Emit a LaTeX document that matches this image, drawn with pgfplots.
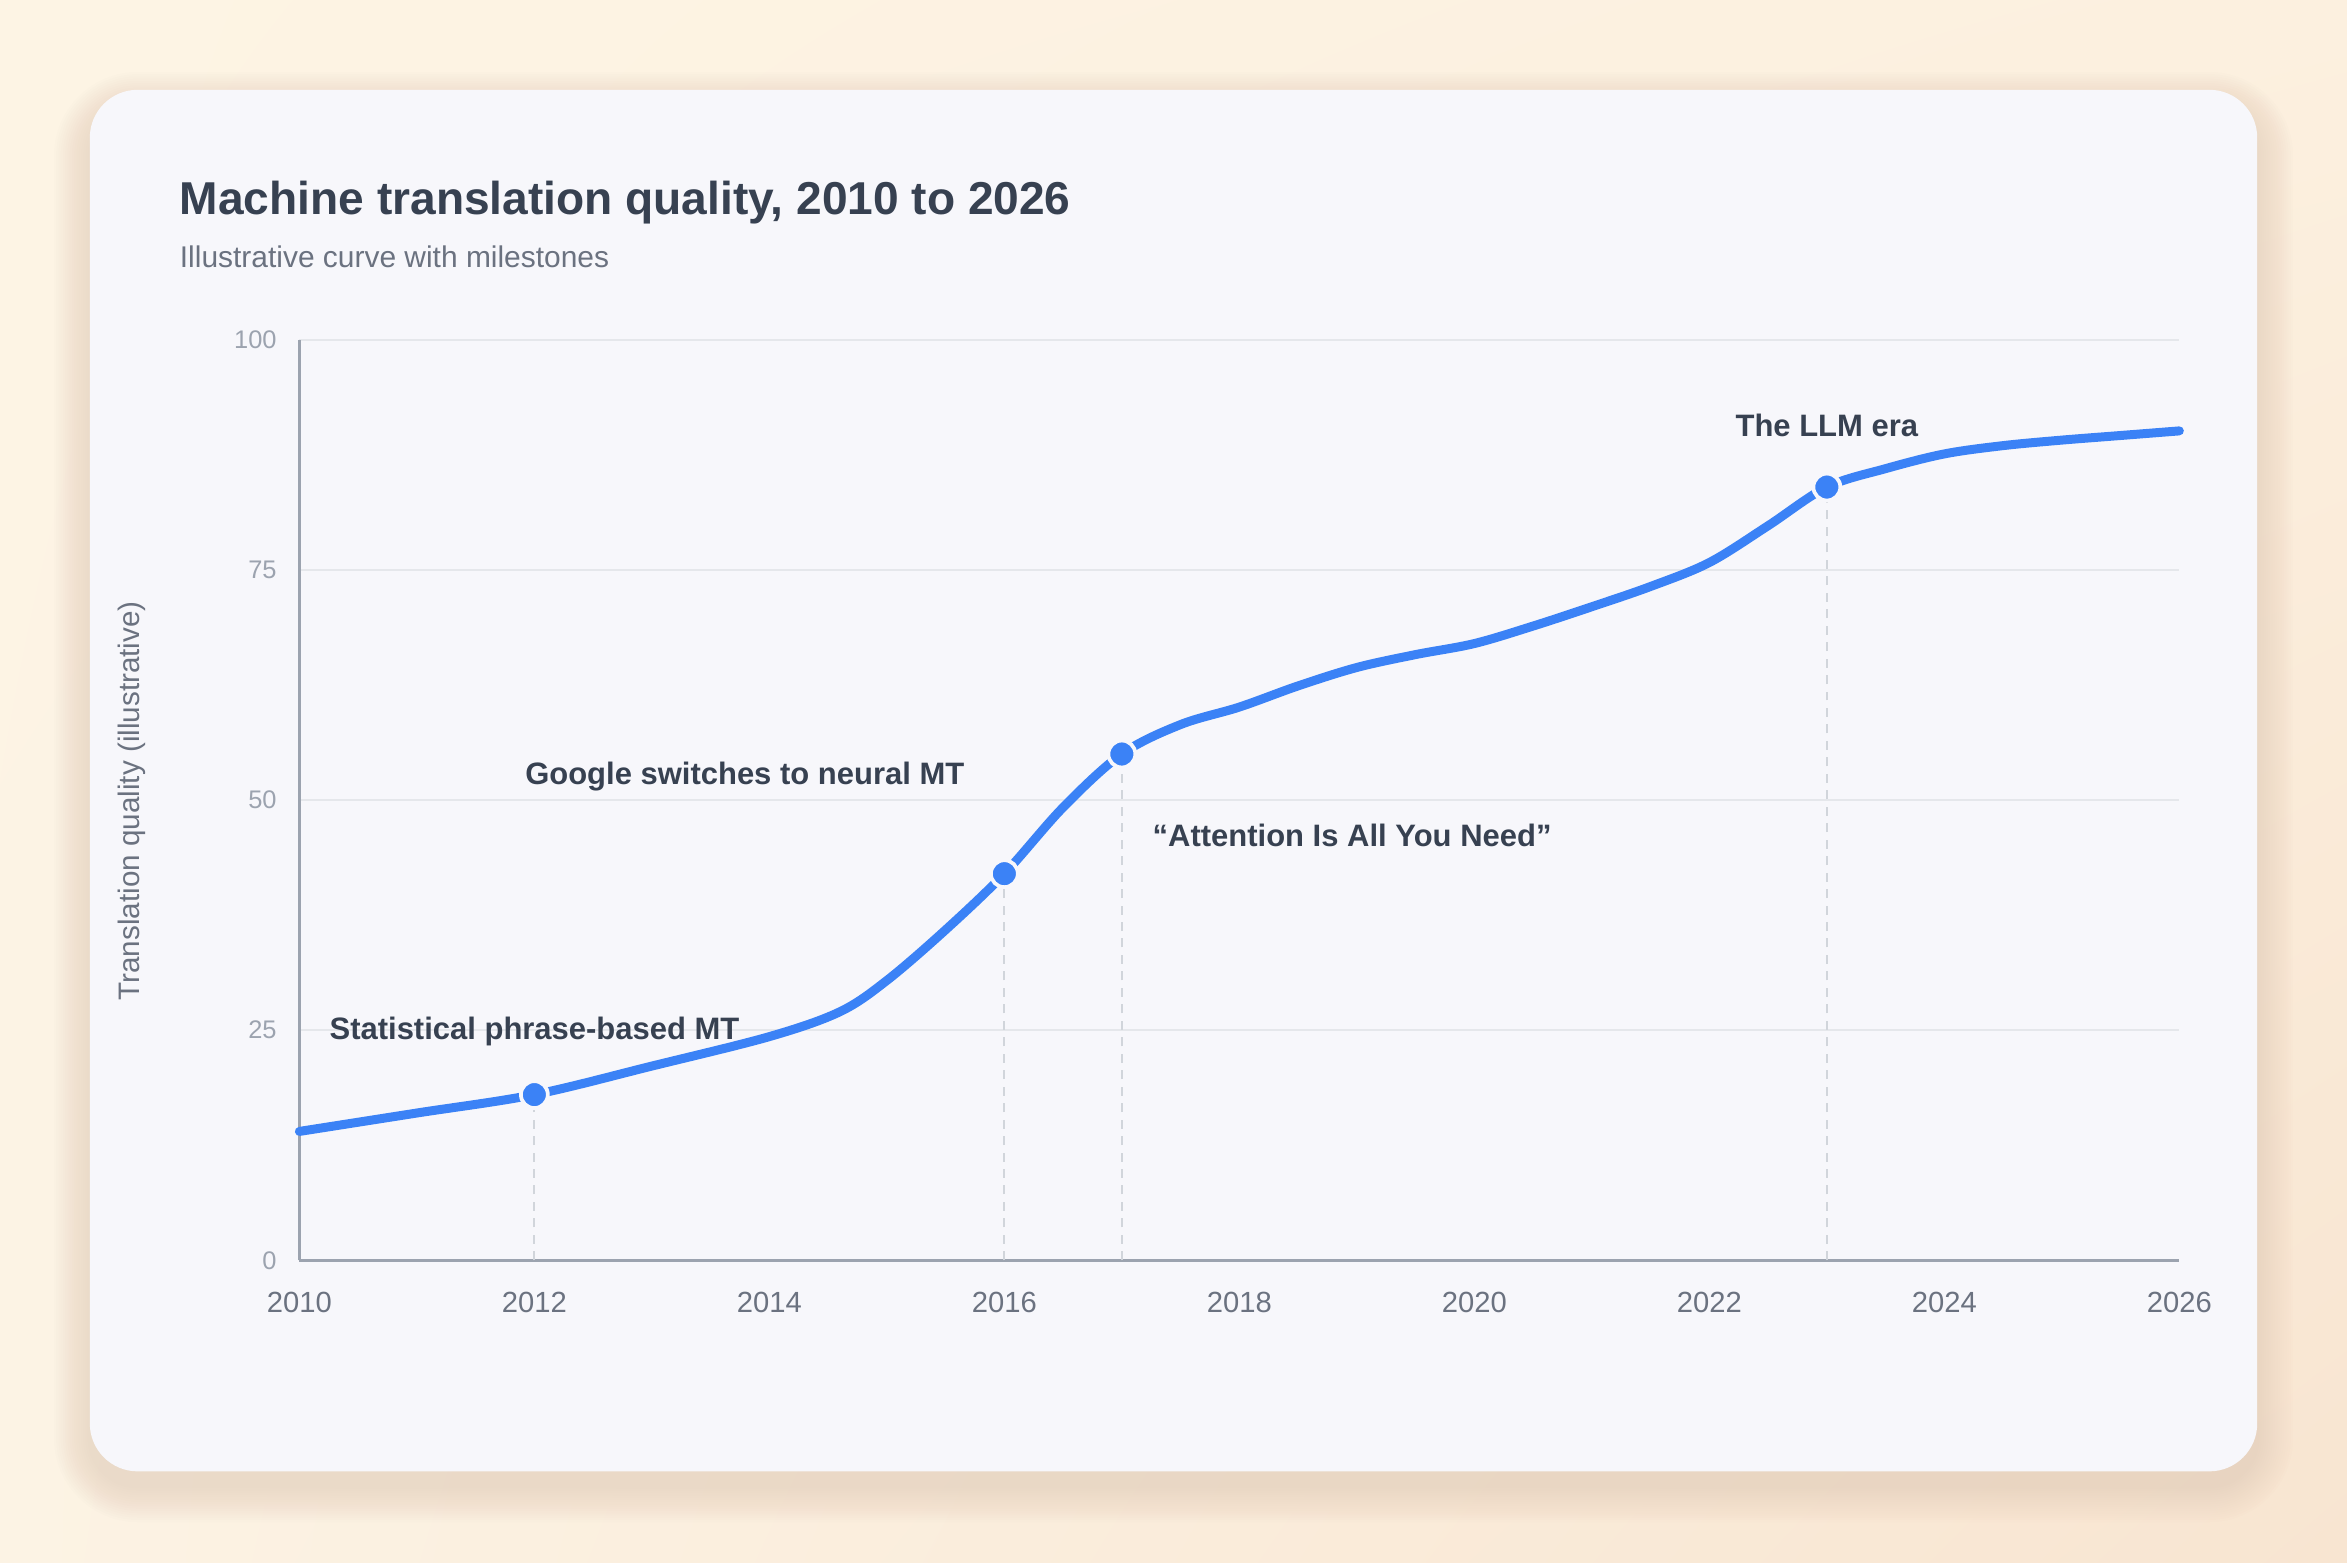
\documentclass[border=0pt]{standalone}
\usepackage{pgfplots}
\pgfplotsset{compat=1.18}
\usetikzlibrary{shadings}
\usepackage{fontspec}
\setmainfont{Liberation Sans}
\definecolor{bgA}{HTML}{FDF4E4}
\definecolor{bgB}{HTML}{FCF0DF}
\definecolor{bgC}{HTML}{FCF3E4}
\definecolor{bgD}{HTML}{F8E5D1}
\definecolor{card}{HTML}{F7F7FB}
\definecolor{titlec}{HTML}{374151}
\definecolor{subc}{HTML}{6B7280}
\definecolor{ytc}{HTML}{9CA3AF}
\definecolor{gridc}{HTML}{E5E7EB}
\definecolor{axisc}{HTML}{9CA3AF}
\definecolor{dashc}{HTML}{D1D5DB}
\definecolor{linec}{HTML}{3B82F6}
\definecolor{shadowc}{HTML}{7A6450}
\pgfplotstableread{
x y
2010 14.0
2011 16.0
2012 18.0
2013 21.1
2014 24.3
2014.6 27.0
2015 30.4
2015.5 35.9
2016 42.0
2016.5 49.2
2017 55.0
2017.5 58.2
2018 60.1
2018.5 62.4
2019 64.4
2019.5 65.8
2020 67.0
2020.5 68.9
2021 71.0
2021.5 73.2
2022 75.8
2022.5 79.8
2023 84.0
2023.5 86.0
2024 87.6
2024.5 88.5
2025 89.1
2025.5 89.6
2026 90.1
}\curve
\pgfplotstableread{
x y
2012 18
2016 42
2017 55
2023 84
}\miles
\begin{document}
\begin{tikzpicture}[x=1pt,y=1pt]
\shade[upper left=bgA, upper right=bgB, lower left=bgC, lower right=bgD] (0,0) rectangle (1568,1044);
\useasboundingbox (0,0) rectangle (1568,1044);
% soft shadow
\foreach \i in {1,...,16}{
  \fill[shadowc, opacity=0.008, rounded corners=32+\i*1.5] (60-\i*1.5,61-10-\i*1.5) rectangle (1508+\i*1.5,984-12+\i*1.5);
}
\fill[card, rounded corners=32pt] (60,61) rectangle (1508,984);
\node[anchor=base west, inner sep=0pt, font=\fontsize{30.8}{36}\selectfont\bfseries, text=titlec] at (120,900.4) {Machine translation quality, 2010 to 2026};
\node[anchor=base west, inner sep=0pt, font=\fontsize{20}{24}\selectfont, text=subc] at (120,865.2) {Illustrative curve with milestones};
\node[rotate=90, inner sep=0pt, font=\fontsize{19.8}{24}\selectfont, text=subc] at (88,509) {Translation quality (illustrative)};
\begin{axis}[
  at={(200pt,202pt)}, anchor=south west,
  scale only axis, width=1256pt, height=615pt,
  xmin=2010, xmax=2026, ymin=0, ymax=100,
  clip=false,
  xtick={2010,2012,...,2026}, ytick={0,25,50,75,100},
  axis lines=left,
  axis line style={-, draw=axisc, line width=2pt},
  major tick length=0pt,
  ymajorgrids, grid style={draw=gridc, line width=1.5pt},
  /pgf/number format/assume math mode=true,
  /pgf/number format/1000 sep={},
  xticklabel style={font=\fontsize{19.5}{24}\selectfont, text=subc, anchor=north, inner sep=0pt, yshift=-21pt},
  yticklabel style={font=\fontsize{17}{20}\selectfont, text=ytc, anchor=east, inner sep=0pt, xshift=-15pt},
]
\addplot[draw=dashc, line width=1.3pt, dash pattern=on 6pt off 5pt] coordinates {(2012,0) (2012,18)};
\addplot[draw=dashc, line width=1.3pt, dash pattern=on 6pt off 5pt] coordinates {(2016,0) (2016,42)};
\addplot[draw=dashc, line width=1.3pt, dash pattern=on 6pt off 5pt] coordinates {(2017,0) (2017,55)};
\addplot[draw=dashc, line width=1.3pt, dash pattern=on 6pt off 5pt] coordinates {(2023,0) (2023,84)};
\addplot[draw=linec, line width=6pt, line cap=round, line join=round, smooth, tension=0.55, mark=none] table[x=x,y=y] {\curve};
\addplot[only marks, mark=*, mark size=9pt, mark options={fill=linec, draw=card, line width=2.5pt}] table[x=x,y=y] {\miles};
\node[anchor=west, inner sep=0pt, font=\fontsize{20.7}{24}\selectfont\bfseries, text=titlec] at (axis cs:2010.255,24.9) {Statistical phrase-based MT};
\node[anchor=west, inner sep=0pt, font=\fontsize{20.7}{24}\selectfont\bfseries, text=titlec] at (axis cs:2011.92,52.5) {Google switches to neural MT};
\node[anchor=west, inner sep=0pt, font=\fontsize{20.7}{24}\selectfont\bfseries, text=titlec] at (axis cs:2017.26,46.2) {“Attention Is All You Need”};
\node[anchor=center, inner sep=0pt, font=\fontsize{20.7}{24}\selectfont\bfseries, text=titlec] at (axis cs:2023,90.7) {The LLM era};
\end{axis}
\end{tikzpicture}
\end{document}
